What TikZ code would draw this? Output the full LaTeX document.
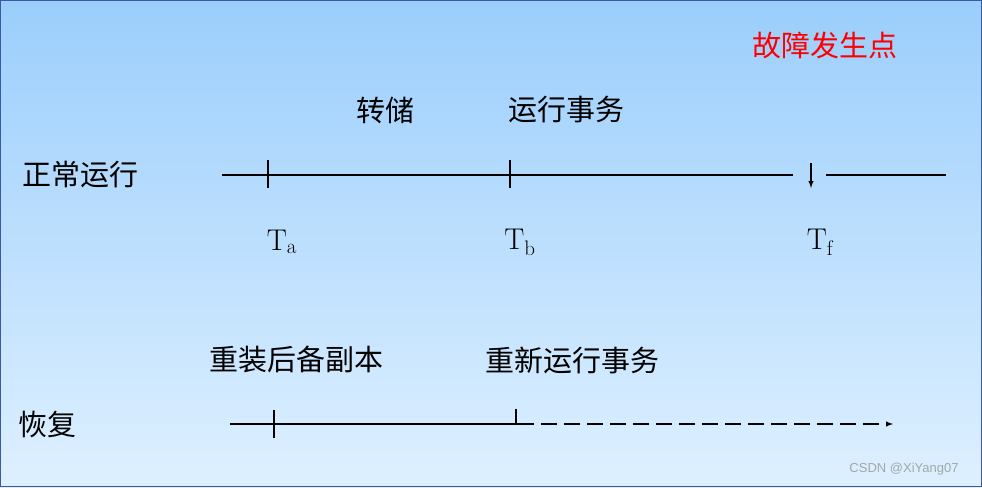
\documentclass[tikz,border=0pt]{standalone}
\usepackage{fontspec}
\newfontfamily\cjk{Noto Sans CJK SC}
\newfontfamily\wm{Liberation Sans}
\begin{document}
\begin{tikzpicture}[x=1pt,y=-1pt,
  lbl/.style={font=\cjk\fontsize{29}{34}\selectfont,inner sep=0},
  tl/.style={font=\fontsize{30}{34}\selectfont,inner sep=0},
  ln/.style={line width=1.8pt},
  tk/.style={line width=2.2pt}]
\useasboundingbox (0,0) rectangle (982,487);
\shade[top color={rgb,255:red,155;green,206;blue,252},bottom color={rgb,255:red,222;green,240;blue,255}] (0,0) rectangle (982,487);
\draw[draw={rgb,255:red,60;green,90;blue,160},line width=1pt] (0.5,0.5) rectangle (981.5,486.5);
\node[lbl,text=red] (f) at (825,45) {故障发生点};
\node[lbl] (zc) at (385,110) {转储};
\node[lbl] (yx) at (566,110) {运行事务};
\node[lbl] (zcyx) at (80,175) {正常运行};
\node[tl] (ta) at (282,242) {T$_{\mathrm a}$};
\node[tl] (tb) at (520,242) {T$_{\mathrm b}$};
\node[tl] (tf) at (820,242) {T$_{\mathrm f}$};
\node[lbl] (cz) at (296,360) {重装后备副本};
\node[lbl] (cx) at (572,360) {重新运行事务};
\node[lbl] (hf) at (47,424) {恢复};
\node[font=\wm\fontsize{13}{15}\selectfont,text=gray!70,inner sep=0] (w) at (904,469) {CSDN @XiYang07};
\coordinate (a1) at (222,175); \coordinate (a2) at (793,175);
\coordinate (a3) at (826,175); \coordinate (a4) at (946,175);
\draw[ln] (a1)--(a2); \draw[ln] (a3)--(a4);
\draw[tk] (268,160)--(268,188);
\draw[tk] (510,160)--(510,188);
\draw[line width=1.4pt,-{latex}] (811,163)--(811,188);
\coordinate (b1) at (230,424); \coordinate (b2) at (518,424); \coordinate (b3) at (893,424);
\draw[ln] (b1)--(b2);
\draw[tk] (274,410)--(274,438);
\draw[tk] (516,409)--(516,424);
\draw[line width=1.4pt,dash pattern=on 16pt off 7pt,-{latex}] (b2)--(b3);
\end{tikzpicture}
\end{document}
